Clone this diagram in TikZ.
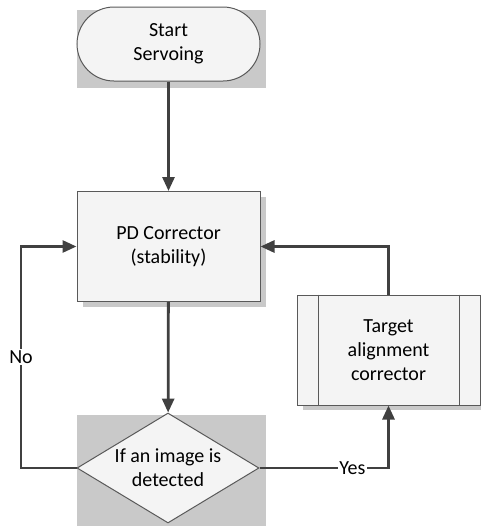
\documentclass[tikz,border=0pt]{standalone}
\usepackage{fontspec}
\setmainfont{Carlito}
\usetikzlibrary{shapes.geometric,arrows.meta}

\definecolor{lnc}{RGB}{64,64,64}
\definecolor{bdc}{RGB}{89,89,89}
\definecolor{shd}{RGB}{201,201,201}
\definecolor{fll}{RGB}{244,244,244}

\tikzset{every picture/.style={line width=0.75pt}}
\tikzset{
  box/.style={draw=bdc, fill=fll, align=center, inner sep=0.75pt, font=\fontsize{15}{18}\selectfont},
  flow/.style={draw=lnc, line width=2.1pt, -{Triangle[length=10.5pt,width=9pt]}},
  lbl/.style={fill=white, inner sep=1pt, font=\fontsize{15}{18}\selectfont}
}

\begin{document}
\begin{tikzpicture}[x=0.75pt,y=0.75pt,yscale=-1]
\path[use as bounding box] (0,0) rectangle (481,526);

%Shadows
\fill[shd] (77,10) rectangle (266,88);
\fill[shd] (77,415) rectangle (266,526);
\fill[shd] (83,197) rectangle (266,307);
\fill[shd] (303,300) rectangle (481,410);

%Flowchart: Terminator
\node (start) [box, minimum width=183*0.75pt, minimum height=74*0.75pt, rounded corners=27.75pt] at (168.5,44) {Start\\Servoing};
%Flowchart: Process
\node (pd) [box, minimum width=183*0.75pt, minimum height=110*0.75pt] at (168.5,246.5) {PD Corrector\\(stability)};
%Flowchart: Decision
\node (dec) [box, diamond, minimum width=182*0.75pt, minimum height=110*0.75pt, inner sep=0pt,
  label={[font=\fontsize{15}{18}\selectfont, align=center]center:If an image is\\detected}] at (168,468) {};
%Flowchart: Predefined Process
\node (tgt) [box, minimum width=183*0.75pt, minimum height=110*0.75pt] at (388.5,350) {Target\\alignment\\corrector};
\draw[bdc] ([xshift=16.5pt]tgt.north west) -- ([xshift=16.5pt]tgt.south west);
\draw[bdc] ([xshift=-15.75pt]tgt.north east) -- ([xshift=-15.75pt]tgt.south east);

\coordinate (nocol) at (21,467);

%Connectors
\draw[flow] (start) -- (pd);
\draw[flow] (pd) -- (dec);
\draw[flow] (dec.east) -| node[lbl, pos=0.36] {Yes} (tgt.south);
\draw[flow] (tgt.north) |- (pd.east);
\draw[flow] (dec.west) -- (dec.west -| nocol) |- node[lbl, pos=0.25] {No} (pd.west);
\end{tikzpicture}
\end{document}
